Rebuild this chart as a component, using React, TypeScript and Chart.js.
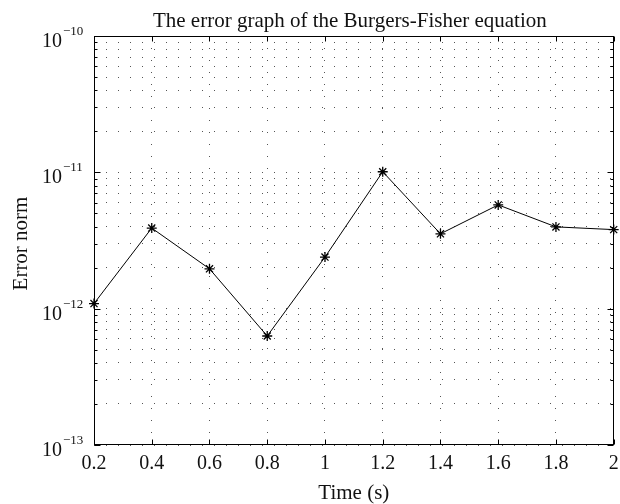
import React, { useEffect, useRef } from "react";
import { Chart, registerables } from "chart.js";

Chart.register(...registerables);

const timeValues = [0.2, 0.4, 0.6, 0.8, 1.0, 1.2, 1.4, 1.6, 1.8, 2.0];
const errorNorm = [1.09e-12, 3.9e-12, 1.96e-12, 6.3e-13, 2.39e-12, 1.01e-11, 3.54e-12, 5.77e-12, 3.98e-12, 3.8e-12];

const xTickValues = [0.2, 0.4, 0.6, 0.8, 1.0, 1.2, 1.4, 1.6, 1.8, 2.0];
const xTickLabels = ["0.2", "0.4", "0.6", "0.8", "1", "1.2", "1.4", "1.6", "1.8", "2"];
const yDecades = [1e-13, 1e-12, 1e-11, 1e-10];
const yDecadeExponents = ["\u221213", "\u221212", "\u221211", "\u221210"];
const yMinorMultipliers = [2, 3, 4, 5, 6, 7, 8, 9];

const titleText = "The error graph of the Burgers-Fisher equation";
const xTitleText = "Time (s)";
const yTitleText = "Error norm";

const FONT = '"Liberation Serif", "Times New Roman", serif';

const yTickValues: number[] = [];
yDecades.forEach((d, i) => {
  yTickValues.push(d);
  if (i < yDecades.length - 1) yMinorMultipliers.forEach((m) => yTickValues.push(d * m));
});

const decorPlugin = {
  id: "decor",
  afterDraw(chart: any) {
    const { ctx, chartArea: a, scales } = chart;
    const xs = scales.x;
    const ys = scales.y;
    ctx.save();
    ctx.strokeStyle = "#000";
    ctx.lineWidth = 1;
    ctx.setLineDash([]);
    const L = Math.round(a.left) + 0.5;
    const R = Math.round(a.right) - 0.5;
    const T = Math.round(a.top) + 0.5;
    const B = Math.round(a.bottom) - 0.5;
    ctx.strokeRect(L, T, R - L, B - T);
    ctx.beginPath();
    xTickValues.forEach((v) => {
      const px = Math.round(xs.getPixelForValue(v)) + 0.5;
      ctx.moveTo(px, B);
      ctx.lineTo(px, B - 5);
      ctx.moveTo(px, T);
      ctx.lineTo(px, T + 5);
    });
    yTickValues.forEach((v) => {
      const major = yDecades.includes(v);
      const len = major ? 6 : 3;
      const py = Math.round(ys.getPixelForValue(v)) + 0.5;
      ctx.moveTo(L, py);
      ctx.lineTo(L + len, py);
      ctx.moveTo(R, py);
      ctx.lineTo(R - len, py);
    });
    ctx.stroke();

    ctx.fillStyle = "#111";
    ctx.textBaseline = "alphabetic";
    // x tick labels
    ctx.font = `20px ${FONT}`;
    ctx.textAlign = "center";
    xTickValues.forEach((v, i) => {
      ctx.fillText(xTickLabels[i], xs.getPixelForValue(v), a.bottom + 24);
    });
    // y tick labels
    yDecades.forEach((d, i) => {
      const py = ys.getPixelForValue(d);
      ctx.font = `20px ${FONT}`;
      ctx.textAlign = "right";
      ctx.fillText("10", a.left - 32, py + 11);
      ctx.font = `13px ${FONT}`;
      ctx.textAlign = "left";
      ctx.fillText(yDecadeExponents[i], a.left - 31, py - 1);
    });
    // title
    ctx.font = `21px ${FONT}`;
    ctx.textAlign = "center";
    ctx.fillText(titleText, (a.left + a.right) / 2 - 4, 27);
    // x title
    ctx.fillText(xTitleText, (a.left + a.right) / 2, 499);
    // y title
    ctx.save();
    ctx.translate(27, (a.top + a.bottom) / 2 + 3);
    ctx.rotate(-Math.PI / 2);
    ctx.fillText(yTitleText, 0, 0);
    ctx.restore();
    ctx.restore();
  },
};

export default function App() {
  const canvasRef = useRef<HTMLCanvasElement | null>(null);

  useEffect(() => {
    const canvas = canvasRef.current;
    if (!canvas) return;
    const chart = new Chart(canvas, {
      type: "line",
      data: {
        datasets: [
          {
            data: timeValues.map((t, i) => ({ x: t, y: errorNorm[i] })),
            borderColor: "#000",
            borderWidth: 1,
            pointStyle: "star",
            pointRadius: 5,
            pointBorderColor: "#000",
            pointBackgroundColor: "#000",
            pointBorderWidth: 1.3,
            tension: 0,
            fill: false,
            clip: false as any,
          },
        ],
      },
      options: {
        animation: false,
        responsive: false,
        events: [],
        layout: { padding: { top: 36, right: 5, left: 0, bottom: 0 } },
        plugins: {
          legend: { display: false },
          tooltip: { enabled: false },
          title: { display: false },
        },
        scales: {
          x: {
            type: "linear",
            min: 0.2,
            max: 2,
            afterBuildTicks: (scale: any) => {
              scale.ticks = xTickValues.map((v) => ({ value: v }));
            },
            afterFit: (scale: any) => {
              scale.height = 59;
            },
            ticks: { display: false },
            grid: { color: "#555", lineWidth: 1, drawTicks: false },
            border: { display: false, dash: [1, 11] },
          },
          y: {
            type: "logarithmic",
            min: 1e-13,
            max: 1e-10,
            afterBuildTicks: (scale: any) => {
              scale.ticks = yTickValues.map((v) => ({ value: v }));
            },
            afterFit: (scale: any) => {
              scale.width = 94;
            },
            ticks: { display: false },
            grid: { color: "#555", lineWidth: 1, drawTicks: false },
            border: { display: false, dash: [1, 11] },
          },
        },
      },
      plugins: [decorPlugin],
    } as any);
    return () => chart.destroy();
  }, []);

  return (
    <div style={{ position: "absolute", left: 0, top: 0, width: 620, height: 504, background: "#fff" }}>
      <canvas ref={canvasRef} width={620} height={504} style={{ width: 620, height: 504 }} />
    </div>
  );
}
